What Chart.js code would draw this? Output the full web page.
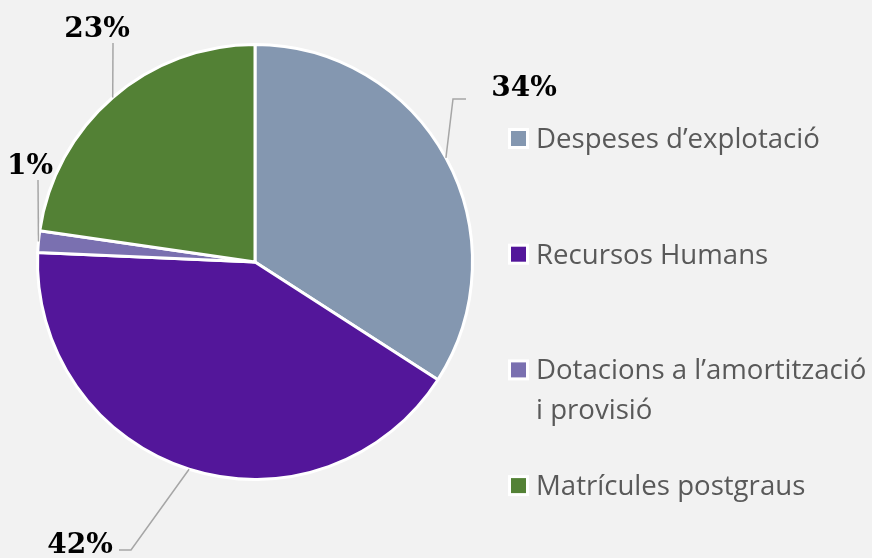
<!DOCTYPE html>
<html>
<head>
<meta charset="utf-8">
<script src="https://cdn.jsdelivr.net/npm/chart.js@4.4.1/dist/chart.umd.min.js"></script>
<style>
  html, body { margin: 0; padding: 0; background: #f2f2f2; }
  #wrap { width: 872px; height: 558px; position: relative; }
</style>
</head>
<body>
<div id="wrap"><canvas id="c" width="872" height="558"></canvas></div>
<script>
// ---- data ----
const categories = [
  "Despeses d’explotació",
  "Recursos Humans",
  "Dotacions a l’amortització i provisió",
  "Matrícules postgraus"
];
const values = [34.1, 41.6, 1.6, 22.7];
const pctLabels = ["34%", "42%", "1%", "23%"];
const colors = ["#8497b0", "#53169a", "#7a70b0", "#538135"];

// ---- layout for data labels (text anchor + leader elbow) ----
const labelLayout = [
  { tx: 524, ty: 96, elbow: [453, 99], end: [466, 99] },
  { tx: 80,  ty: 553, elbow: [131, 550], end: [119, 550] },
  { tx: 30,  ty: 174, elbow: [38, 180], end: null },
  { tx: 97,  ty: 37,  elbow: [113, 43], end: null }
];

const labelPlugin = {
  id: 'pieLabels',
  afterDraw(chart) {
    const ctx = chart.ctx;
    const meta = chart.getDatasetMeta(0);
    ctx.save();
    meta.data.forEach((arc, i) => {
      const p = arc.getProps(['x', 'y', 'startAngle', 'endAngle', 'outerRadius'], true);
      const mid = (p.startAngle + p.endAngle) / 2;
      const sx = p.x + Math.cos(mid) * p.outerRadius;
      const sy = p.y + Math.sin(mid) * p.outerRadius;
      const L = labelLayout[i];
      ctx.strokeStyle = '#a6a6a6';
      ctx.lineWidth = 1.5;
      ctx.beginPath();
      ctx.moveTo(sx, sy);
      ctx.lineTo(L.elbow[0], L.elbow[1]);
      if (L.end) ctx.lineTo(L.end[0], L.end[1]);
      ctx.stroke();
      ctx.fillStyle = '#000000';
      ctx.font = 'bold 28px Georgia, "DejaVu Serif", "Liberation Serif", serif';
      ctx.textAlign = 'center';
      ctx.textBaseline = 'alphabetic';
      ctx.fillText(pctLabels[i], L.tx, L.ty);
    });
    ctx.restore();
  }
};

const legendPlugin = {
  id: 'sideLegend',
  afterDraw(chart) {
    const ctx = chart.ctx;
    ctx.save();
    // fit font so first label spans ~284px
    ctx.font = '28px "Open Sans", "Noto Sans", sans-serif';
    const w0 = ctx.measureText(categories[0]).width;
    const fs = 28 * 284 / w0;
    const font = fs.toFixed(2) + 'px "Open Sans", "Noto Sans", sans-serif';
    ctx.font = font;
    const textX = 536;
    const maxW = 334;
    const baseStart = 148, step = 115.7, lineH = 40;
    categories.forEach((cat, i) => {
      const base = baseStart + step * i;
      // wrap words
      const words = cat.split(' ');
      const lines = [];
      let cur = '';
      words.forEach(w => {
        const t = cur ? cur + ' ' + w : w;
        if (ctx.measureText(t).width > maxW && cur) { lines.push(cur); cur = w; }
        else cur = t;
      });
      if (cur) lines.push(cur);
      // marker
      ctx.fillStyle = '#ffffff';
      ctx.fillRect(508, base - 20, 21, 21);
      ctx.fillStyle = colors[i];
      ctx.fillRect(511, base - 17, 15, 15);
      ctx.fillStyle = '#595959';
      ctx.textAlign = 'left';
      ctx.textBaseline = 'alphabetic';
      lines.forEach((ln, k) => ctx.fillText(ln, textX, base + k * lineH));
    });
    ctx.restore();
  }
};

const bgPlugin = {
  id: 'bg',
  beforeDraw(chart) {
    const ctx = chart.ctx;
    ctx.save();
    ctx.fillStyle = '#f2f2f2';
    ctx.fillRect(0, 0, chart.width, chart.height);
    ctx.restore();
  }
};

new Chart(document.getElementById('c'), {
  type: 'pie',
  data: {
    labels: categories,
    datasets: [{
      data: values,
      backgroundColor: colors,
      borderColor: '#ffffff',
      borderWidth: 3
    }]
  },
  options: {
    responsive: false,
    animation: false,
    layout: { padding: { left: 36, right: 398, top: 43, bottom: 77 } },
    plugins: {
      legend: { display: false },
      tooltip: { enabled: false }
    }
  },
  plugins: [bgPlugin, labelPlugin, legendPlugin]
});
</script>
</body>
</html>
